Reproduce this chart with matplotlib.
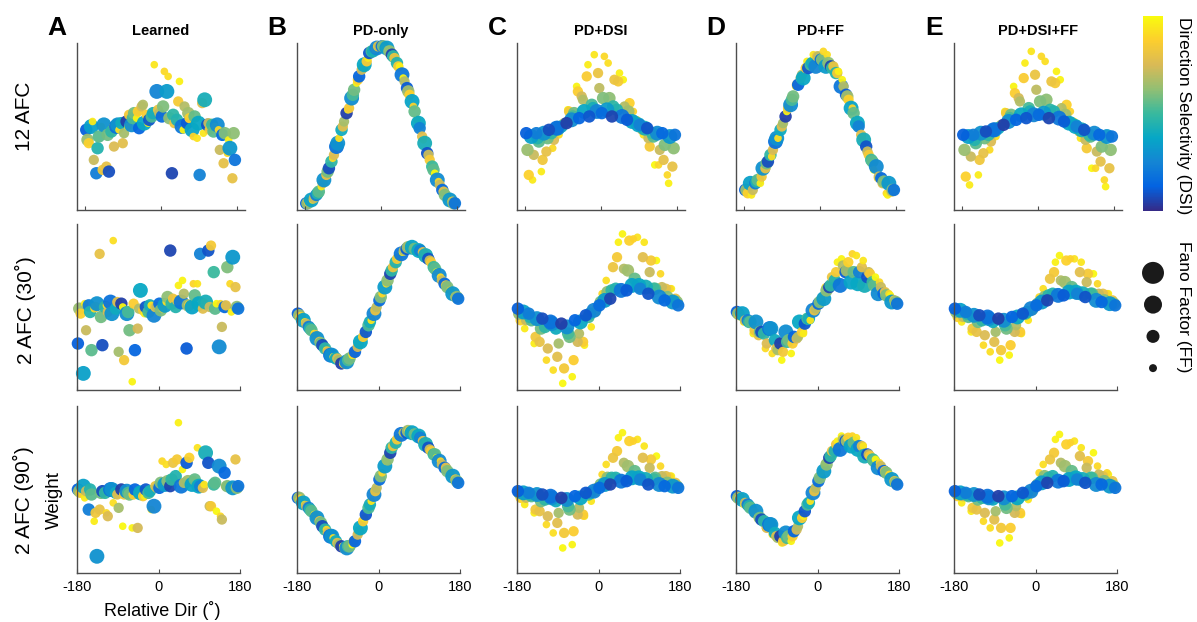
import numpy as np
import matplotlib.pyplot as plt
from matplotlib.colors import LinearSegmentedColormap, Normalize
from matplotlib.cm import ScalarMappable

plt.rcParams['font.family'] = ['Liberation Sans', 'DejaVu Sans']
plt.rcParams['axes.unicode_minus'] = False

# neuron properties: direction relative to target, DSI, Fano factor class
rel_dir = [-178, -172, -166, -160, -154, -148, -142, -136, -130, -124,
           -118, -112, -106, -100, -94, -88, -82, -76, -70, -64,
           -58, -52, -46, -40, -34, -28, -22, -16, -10, -4,
           2, 8, 14, 20, 26, 32, 38, 44, 50, 56,
           62, 68, 74, 80, 86, 92, 98, 104, 110, 116,
           122, 128, 134, 140, 146, 152, 158, 164, 170, 176,
           -175, -163, -151, -139, -127, -115, -103, -91, -79, -67,
           -55, -43, -31, -19, -7, 5, 17, 29, 41, 53,
           65, 77, 89, 101, 113, 125, 137, 149, 161, 173]
dsi = [0.12, 0.88, 0.35, 0.72, 0.22, 0.55, 0.96, 0.30, 0.80, 0.08,
       0.48, 0.76, 0.18, 0.92, 0.40, 0.66, 0.05, 0.84, 0.28, 0.58,
       0.98, 0.14, 0.74, 0.38, 0.86, 0.10, 0.52, 0.94, 0.25, 0.70,
       0.16, 0.90, 0.33, 0.62, 0.06, 0.82, 0.45, 0.97, 0.20, 0.68,
       0.11, 0.88, 0.36, 0.56, 0.93, 0.24, 0.78, 0.42, 0.09, 0.85,
       0.50, 0.99, 0.27, 0.72, 0.15, 0.60, 0.90, 0.32, 0.80, 0.19,
       0.64, 0.95, 0.45, 0.83, 0.58, 0.91, 0.30, 0.78, 0.99, 0.52,
       0.87, 0.68, 0.96, 0.42, 0.81, 0.60, 0.92, 0.48, 0.85, 0.98,
       0.65, 0.89, 0.38, 0.94, 0.72, 0.55, 0.90, 0.79, 0.97, 0.62]
ff = [3, 2, 4, 2, 3, 3, 1, 4, 2, 3,
      3, 2, 4, 1, 3, 2, 3, 2, 4, 3,
      1, 3, 2, 4, 2, 3, 3, 1, 4, 2,
      3, 1, 4, 3, 3, 2, 3, 1, 4, 2,
      3, 2, 4, 3, 1, 3, 2, 4, 3, 2,
      3, 1, 4, 2, 3, 3, 1, 4, 2, 3,
      3, 1, 3, 2, 3, 1, 4, 2, 1, 3,
      2, 2, 1, 3, 2, 3, 1, 3, 2, 1,
      3, 1, 4, 1, 2, 3, 1, 2, 1, 3]

# readout weights (arbitrary units, 0-100 of panel range)
w_learned_12 = [48, 40, 50, 30, 22, 44, 50, 51, 26, 23, 47, 38, 50, 48, 52, 46, 53, 57, 51, 58,
                55, 49, 62, 52, 57, 54, 56, 87, 71, 58, 56, 83, 71, 55, 22, 52, 54, 77, 50, 62,
                52, 55, 48, 56, 43, 21, 64, 66, 51, 48, 51, 50, 51, 36, 45, 46, 34, 37, 19, 30,
                42, 53, 37, 24, 45, 50, 51, 40, 50, 55, 59, 63, 52, 58, 60, 62, 80, 57, 65, 48,
                58, 44, 52, 46, 52, 47, 48, 28, 42, 46]
w_pd_12 = [4, 5, 6, 7, 9, 11, 14, 18, 21, 25, 29, 33, 38, 43, 48, 53, 58, 61, 67, 72,
           76, 80, 84, 87, 89, 94, 95, 96, 97, 98, 98, 97, 97, 95, 93, 91, 88, 86, 81, 77,
           73, 69, 65, 59, 54, 49, 44, 40, 34, 30, 26, 22, 18, 15, 12, 9, 7, 6, 5, 4,
           4, 6, 10, 16, 23, 31, 40, 50, 60, 69, 78, 85, 91, 95, 98, 98, 96, 92, 86, 79,
           71, 62, 52, 42, 33, 24, 17, 11, 7, 4]
w_pddsi_12 = [46, 21, 44, 33, 46, 41, 23, 46, 35, 48, 46, 42, 49, 45, 50, 52, 52, 59, 54, 58,
              74, 55, 68, 59, 80, 56, 63, 93, 59, 73, 58, 92, 60, 67, 56, 78, 60, 82, 56, 62,
              54, 64, 53, 53, 54, 51, 48, 49, 49, 38, 46, 27, 46, 36, 46, 39, 21, 44, 26, 45,
              36, 18, 43, 30, 43, 37, 49, 51, 60, 56, 71, 66, 87, 61, 82, 67, 88, 62, 77, 78,
              59, 59, 51, 45, 43, 44, 27, 30, 16, 37]
w_pdff_12 = [12, 10, 16, 12, 16, 18, 16, 25, 25, 29, 33, 36, 41, 43, 48, 52, 56, 61, 63, 68,
             74, 75, 79, 79, 85, 85, 87, 93, 86, 92, 90, 95, 86, 88, 86, 86, 82, 83, 74, 74,
             69, 66, 61, 58, 54, 50, 45, 42, 38, 33, 30, 24, 26, 20, 19, 17, 10, 16, 11, 12,
             12, 9, 17, 20, 28, 32, 43, 50, 59, 66, 75, 81, 89, 88, 92, 90, 93, 85, 82, 78,
             68, 61, 52, 43, 35, 29, 19, 16, 9, 12]
w_all_12 = [45, 20, 44, 32, 45, 40, 21, 46, 34, 47, 45, 41, 48, 44, 49, 51, 51, 58, 53, 57,
            74, 54, 67, 57, 79, 55, 61, 95, 57, 72, 57, 92, 58, 66, 55, 77, 59, 83, 55, 61,
            53, 63, 52, 52, 53, 50, 47, 48, 48, 37, 45, 25, 46, 35, 45, 38, 18, 44, 25, 44,
            36, 15, 42, 30, 43, 36, 48, 50, 59, 55, 70, 65, 88, 59, 81, 65, 89, 60, 76, 78,
            57, 59, 50, 43, 42, 44, 25, 29, 14, 36]

w_learned_30 = [28, 46, 10, 36, 51, 24, 49, 52, 82, 27, 50, 47, 53, 90, 49, 23, 52, 18, 46, 36,
                5, 24, 37, 60, 48, 50, 47, 51, 45, 50, 52, 49, 51, 56, 84, 55, 50, 63, 53, 58,
                25, 51, 50, 57, 64, 82, 49, 53, 84, 87, 71, 52, 26, 38, 50, 74, 64, 80, 62, 49,
                49, 52, 47, 50, 44, 51, 46, 53, 50, 47, 52, 49, 46, 51, 50, 48, 53, 52, 54, 66,
                51, 64, 52, 53, 50, 49, 52, 51, 47, 50]
w_pd_30 = [46, 44, 42, 40, 38, 36, 34, 31, 29, 27, 25, 23, 21, 20, 19, 18, 16, 16, 17, 19,
           21, 23, 26, 29, 32, 35, 39, 42, 46, 50, 54, 58, 62, 66, 70, 74, 77, 80, 82, 84,
           85, 86, 86, 85, 85, 84, 83, 81, 79, 77, 74, 71, 69, 66, 64, 62, 60, 58, 56, 55,
           45, 41, 37, 33, 28, 24, 21, 19, 16, 18, 22, 28, 34, 41, 48, 56, 64, 72, 79, 83,
           86, 86, 84, 82, 78, 73, 68, 63, 59, 56]
w_pddsi_30 = [49, 42, 47, 42, 46, 42, 28, 43, 29, 43, 38, 25, 41, 12, 37, 28, 40, 13, 38, 32,
              8, 42, 29, 41, 29, 45, 44, 38, 48, 49, 51, 58, 54, 59, 55, 74, 61, 89, 60, 73,
              60, 90, 63, 67, 92, 61, 80, 62, 58, 78, 61, 78, 56, 62, 54, 56, 61, 53, 55, 51,
              46, 37, 44, 32, 37, 18, 40, 20, 4, 34, 18, 34, 27, 46, 47, 53, 66, 60, 80, 94,
              72, 91, 63, 89, 71, 61, 70, 61, 61, 53]
w_pdff_30 = [47, 45, 46, 42, 42, 41, 34, 41, 33, 35, 34, 28, 37, 22, 30, 24, 28, 23, 35, 30,
             22, 32, 31, 41, 35, 40, 43, 42, 48, 49, 52, 56, 55, 60, 62, 68, 66, 77, 63, 75,
             71, 77, 65, 71, 81, 71, 74, 63, 68, 70, 65, 68, 58, 62, 58, 57, 58, 53, 54, 52,
             46, 41, 41, 36, 35, 25, 37, 25, 18, 29, 28, 32, 34, 43, 48, 53, 62, 63, 71, 79,
             72, 82, 64, 78, 71, 63, 65, 59, 57, 53]
w_all_30 = [49, 44, 48, 44, 47, 44, 35, 45, 35, 45, 42, 33, 44, 23, 41, 35, 43, 24, 42, 37,
            21, 44, 35, 44, 35, 46, 46, 42, 49, 49, 51, 56, 53, 56, 54, 67, 58, 77, 57, 66,
            57, 78, 59, 62, 79, 58, 71, 58, 56, 70, 58, 70, 54, 58, 53, 54, 58, 52, 54, 51,
            47, 41, 46, 37, 41, 27, 43, 29, 18, 39, 27, 39, 34, 47, 48, 52, 61, 57, 71, 81,
            65, 79, 59, 77, 65, 58, 64, 58, 58, 52]

w_learned_90 = [50, 48, 52, 49, 38, 47, 31, 10, 38, 49, 48, 34, 50, 42, 48, 39, 50, 47, 49, 47,
                27, 50, 27, 48, 46, 50, 48, 38, 40, 51, 51, 67, 53, 55, 52, 66, 58, 90, 52, 54,
                66, 69, 53, 56, 75, 52, 51, 72, 66, 40, 53, 37, 64, 32, 60, 52, 50, 51, 68, 52,
                49, 45, 50, 36, 48, 36, 50, 47, 28, 48, 47, 48, 46, 49, 52, 54, 65, 56, 68, 62,
                55, 56, 52, 53, 40, 54, 34, 52, 51, 51]
w_pd_90 = [45, 44, 42, 40, 39, 37, 35, 33, 31, 28, 26, 24, 22, 21, 19, 17, 16, 15, 15, 16,
           17, 19, 23, 27, 31, 35, 39, 43, 47, 51, 56, 60, 64, 68, 72, 76, 78, 81, 83, 84,
           84, 85, 84, 83, 82, 81, 79, 77, 75, 73, 71, 69, 67, 65, 63, 61, 59, 58, 56, 54,
           45, 41, 38, 34, 30, 26, 22, 18, 16, 16, 19, 25, 33, 41, 49, 58, 67, 75, 80, 84,
           85, 84, 82, 78, 74, 71, 67, 63, 59, 55]
w_pddsi_90 = [49, 45, 48, 45, 48, 46, 36, 47, 37, 47, 44, 34, 46, 24, 43, 36, 45, 24, 44, 38,
              17, 46, 35, 45, 35, 48, 47, 43, 49, 51, 51, 59, 53, 57, 53, 69, 57, 81, 55, 66,
              55, 79, 57, 61, 80, 56, 69, 56, 53, 68, 56, 70, 53, 58, 52, 54, 58, 52, 54, 51,
              48, 41, 47, 38, 43, 29, 45, 30, 15, 40, 25, 39, 34, 48, 49, 53, 65, 57, 73, 84,
              64, 79, 57, 76, 63, 57, 64, 58, 58, 52]
w_pdff_90 = [46, 45, 44, 42, 41, 39, 36, 37, 33, 32, 31, 27, 29, 23, 24, 21, 22, 19, 24, 22,
             19, 25, 26, 33, 33, 37, 41, 43, 48, 51, 55, 60, 61, 65, 69, 73, 73, 79, 74, 80,
             79, 81, 76, 78, 81, 76, 76, 70, 71, 70, 68, 68, 63, 64, 61, 60, 59, 56, 55, 53,
             45, 41, 40, 36, 33, 27, 29, 22, 18, 21, 22, 28, 34, 42, 49, 57, 66, 70, 77, 82,
             79, 82, 74, 76, 71, 67, 66, 61, 58, 54]
w_all_90 = [49, 46, 48, 46, 48, 46, 37, 47, 38, 47, 45, 36, 46, 27, 44, 37, 46, 27, 45, 39,
            21, 46, 36, 45, 36, 48, 47, 44, 49, 51, 52, 60, 54, 58, 54, 68, 58, 80, 55, 66,
            55, 77, 56, 61, 79, 56, 70, 56, 54, 67, 57, 72, 53, 59, 53, 55, 60, 52, 55, 51,
            48, 42, 47, 39, 44, 31, 45, 32, 18, 41, 27, 40, 35, 48, 49, 53, 65, 57, 72, 83,
            64, 78, 57, 75, 63, 57, 64, 58, 59, 52]

col_titles = ['Learned', 'PD-only', 'PD+DSI', 'PD+FF', 'PD+DSI+FF']
col_letters = ['A', 'B', 'C', 'D', 'E']
row_labels = ['12 AFC', '2 AFC (30˚)', '2 AFC (90˚)']
ff_levels = [4, 3, 2, 1]

weights = [[w_learned_12, w_pd_12, w_pddsi_12, w_pdff_12, w_all_12],
           [w_learned_30, w_pd_30, w_pddsi_30, w_pdff_30, w_all_30],
           [w_learned_90, w_pd_90, w_pddsi_90, w_pdff_90, w_all_90]]

# MATLAB parula approximation
parula = LinearSegmentedColormap.from_list('parula', [
    '#352a87', '#0363e1', '#1485d4', '#06a7c6', '#38b99e',
    '#92bf73', '#d9ba56', '#fcce2e', '#f9fb0e'])
norm = Normalize(0, 1)

ff_size = {1: 30, 2: 55, 3: 80, 4: 115}
key_size = {1: 33, 2: 88, 3: 168, 4: 250}

W, H = 1197, 622
fig = plt.figure(figsize=(W / 100, H / 100), dpi=100)

col_left = [77, 297, 517, 736, 954]
row_top = [43, 224, 406]
row_h = [167, 166, 167]
row_w = [168, 163, 163]
row_xlim = [(-200, 200), (-180, 180), (-180, 180)]
axis_gray = '#4d4d4d'

x = np.array(rel_dir)
d = np.array(dsi)
sz = np.array([ff_size[f] for f in ff])
by_dir = np.argsort(x, kind='stable')
by_dsi = np.argsort(-d, kind='stable')  # low-DSI neurons drawn last
# DSI-dependent models keep the untuned band on top of the fan
col_order = [by_dir, by_dir, by_dsi, by_dir, by_dsi]

for r in range(3):
    for c in range(5):
        ax = fig.add_axes([col_left[c] / W, 1 - (row_top[r] + row_h[r]) / H,
                           row_w[r] / W, row_h[r] / H])
        y = np.array(weights[r][c])
        o = col_order[c]
        ax.scatter(x[o], y[o], s=sz[o], c=d[o], cmap=parula,
                   norm=norm, alpha=0.95, linewidths=0, clip_on=False)
        ax.set_xlim(row_xlim[r])
        ax.set_ylim(0, 100)
        ax.spines[['top', 'right']].set_visible(False)
        for sp in ['left', 'bottom']:
            ax.spines[sp].set_color(axis_gray)
            ax.spines[sp].set_linewidth(1.0)
        ax.set_xticks([-180, 0, 180])
        ax.set_yticks([])
        ax.tick_params(axis='x', direction='in', length=3, width=0.8,
                       color=axis_gray, labelsize=10.5, pad=5)
        if r < 2:
            ax.set_xticklabels([])

for c in range(5):
    cx = col_left[c] + row_w[0] / 2
    fig.text(cx / W, 1 - 31 / H, col_titles[c], fontsize=10.5,
             fontweight='bold', ha='center', va='center')
    fig.text((col_left[c] - 20) / W, 1 - 28 / H, col_letters[c], fontsize=19,
             fontweight='bold', ha='center', va='center')

fig.text(25 / W, 1 - 116 / H, row_labels[0], rotation=90, fontsize=15,
         ha='center', va='center')
fig.text(25 / W, 1 - 310 / H, row_labels[1], rotation=90, fontsize=15,
         ha='center', va='center')
fig.text(23 / W, 1 - 500 / H, row_labels[2], rotation=90, fontsize=15,
         ha='center', va='center')
fig.text(54 / W, 1 - 500 / H, 'Weight', rotation=90, fontsize=13.5,
         ha='center', va='center')
fig.text(162 / W, 1 - 610 / H, 'Relative Dir (˚)', fontsize=13,
         ha='center', va='center')

# DSI colour bar
cax = fig.add_axes([1143 / W, 1 - 211 / H, 20 / W, 195 / H])
cb = fig.colorbar(ScalarMappable(norm=norm, cmap=parula), cax=cax)
cb.outline.set_visible(False)
cb.set_ticks([])
fig.text(1183 / W, 1 - 116 / H, 'Direction Selectivity (DSI)', rotation=-90,
         fontsize=12.5, ha='center', va='center')

# Fano factor size key
kax = fig.add_axes([1138 / W, 1 - 384 / H, 30 / W, 127 / H])
kax.scatter(np.zeros(len(ff_levels)), np.arange(len(ff_levels)),
            s=[key_size[f] for f in ff_levels], c='#1a1a1a', linewidths=0)
kax.set_xlim(-1, 1)
kax.set_ylim(len(ff_levels) - 0.5, -0.5)
kax.axis('off')
fig.text(1183 / W, 1 - 307 / H, 'Fano Factor (FF)', rotation=-90,
         fontsize=12.5, ha='center', va='center')

fig.savefig('out.png', dpi=100)
